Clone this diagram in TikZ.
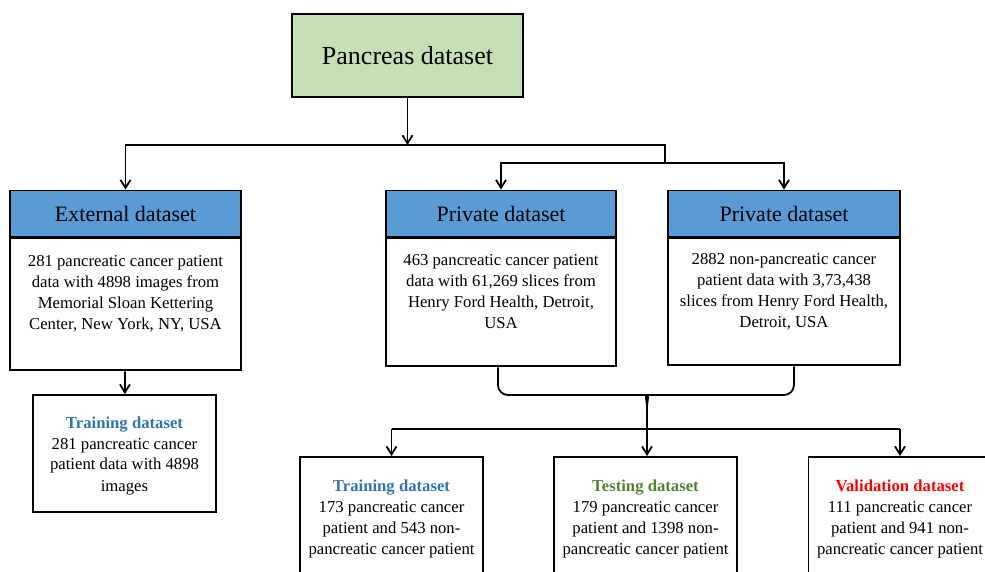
\documentclass[tikz,border=0pt]{standalone}
\usepackage{fontspec}
\setmainfont{Liberation Serif}
\usetikzlibrary{arrows.meta}
\definecolor{titlegreen}{HTML}{C5E0B4}
\definecolor{headblue}{HTML}{5B9BD5}
\definecolor{trainblue}{HTML}{2E75B6}
\definecolor{testgreen}{HTML}{548235}
\definecolor{validred}{HTML}{FF0000}

\begin{document}
\begin{tikzpicture}[x=1pt, y=-1pt,
    box/.style={draw=black, line width=1.9pt, inner sep=0pt},
    headbox/.style={box, fill=headblue, minimum height=46pt,
                    font=\fontsize{22}{26}\selectfont},
    txt/.style={align=center, inner sep=0pt, font=\fontsize{16.7}{21}\selectfont},
    conn/.style={line width=1.8pt},
    arr/.style={conn, -{Straight Barb[length=8pt, width=10pt]}}]
  \useasboundingbox (0,0) rectangle (985,571);

  % top
  \node[box, fill=titlegreen, minimum width=231pt, minimum height=83pt,
        font=\fontsize{26}{30}\selectfont] (pancreas) at (407.5,55.5) {Pancreas dataset};

  % external dataset
  \node[headbox, minimum width=231pt] (exthead) at (125.5,213.5) {External dataset};
  \node[box, minimum width=231pt, minimum height=132pt, anchor=north] (extbody) at (exthead.south) {};
  \node[txt] (exttxt) at (125.5,293.5) {281 pancreatic cancer patient\\data with 4898 images from\\Memorial Sloan Kettering\\Center, New York, NY, USA};

  % private datasets
  \node[headbox, minimum width=230pt] (privhead) at (501,213.5) {Private dataset};
  \node[box, minimum width=230pt, minimum height=128pt, anchor=north] (privbody) at (privhead.south) {};
  \node[txt] (privtxt) at (501,291.5) {463 pancreatic cancer patient\\data with 61,269 slices from\\Henry Ford Health, Detroit,\\USA};

  \node[headbox, minimum width=232pt] (nonhead) at (784,213.5) {Private dataset};
  \node[box, minimum width=232pt, minimum height=127pt, anchor=north] (nonbody) at (nonhead.south) {};
  \node[txt] (nontxt) at (784,291.5) {2882 non-pancreatic cancer\\patient data with 3,73,438\\slices from Henry Ford Health,\\Detroit, USA};

  % split datasets
  \node[box, minimum width=183pt, minimum height=117pt] (exttrain) at (124.5,453.5) {};
  \node[txt] at (124.5,455.5) {{\bfseries\color{trainblue}Training dataset}\\281 pancreatic cancer\\patient data with 4898\\images};

  \foreach \x/\nm/\lbl/\col/\a/\b in {391.5/train/Training/trainblue/173/543,
                                       645.5/test/Testing/testgreen/179/1398,
                                       900/valid/Validation/validred/111/941}{
    \node[box, minimum width=183pt, minimum height=130pt] (\nm) at (\x,522) {};
    \node[txt] (\nm txt) at (\x,518.5) {{\bfseries\color{\col}\lbl\ dataset}\\\a\ pancreatic cancer\\patient and \b\ non-\\pancreatic cancer patient};
  }

  % connectors
  \coordinate (ja) at (407.5,145);
  \coordinate (jb) at (665,145);
  \coordinate (jc) at (665,163);
  \draw[arr] (pancreas) -- (ja);
  \draw[arr] (ja) -| (exthead);
  \draw[conn] (ja) -- (jb) -- (jc);
  \draw[arr] (jc) -| (privhead);
  \draw[arr] (jc) -| (nonhead);
  \draw[arr] (extbody) -- (exttrain);

  \coordinate (tip) at (647,409);
  \draw[conn, rounded corners=10pt] ([xshift=-3pt]privbody.south) |- (638,395)
    [sharp corners] .. controls (644,395) and (647,399) .. (tip);
  \draw[conn, rounded corners=10pt] ([xshift=10pt]nonbody.south) |- (656,395)
    [sharp corners] .. controls (650,395) and (647,399) .. (tip);
  \draw[arr] (tip) -- (tip |- test.north);

  \coordinate (hl) at (391.5,429);
  \coordinate (hr) at (900,429);
  \draw[conn] (hl) -- (hr);
  \draw[arr] (hl) -- (train);
  \draw[arr] (hr) -- (valid);
\end{tikzpicture}
\end{document}
